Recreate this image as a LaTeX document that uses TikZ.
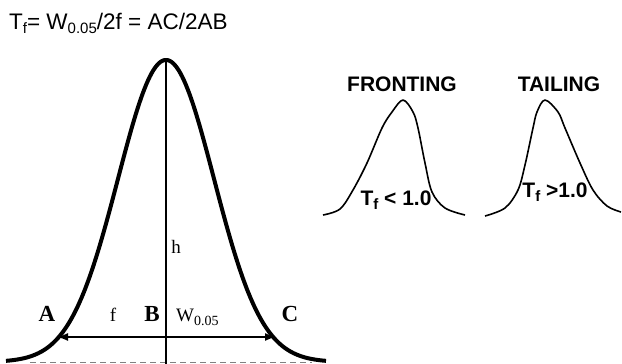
\documentclass[tikz,border=0pt]{standalone}
\usepackage{fontspec}
\setmainfont{Liberation Sans}
\newfontfamily\timesfont{Liberation Serif}
\usetikzlibrary{arrows.meta}

% lowered subscript: size, drop, text
\newcommand{\lowsub}[3]{\raisebox{-#2pt}{\fontsize{#1}{#1}\selectfont #3}}

\tikzset{
	mainpeak/.style={line width=4pt},
	smallpeak/.style={line width=1.6pt, line join=round},
	caption/.style={font=\fontsize{21}{22}\selectfont\bfseries, anchor=base},
	ratio/.style={font=\fontsize{21}{22}\selectfont\bfseries, anchor=base},
	letter/.style={font=\timesfont\fontsize{23}{23}\selectfont\bfseries, anchor=base},
	symbol/.style={font=\timesfont\fontsize{19}{19}\selectfont, anchor=base},
}

\begin{document}
\begin{tikzpicture}[x=1pt,y=-1pt]
	\useasboundingbox (0,0) rectangle (622,364);

	% Formula at the top
	\node[anchor=base west, inner sep=0, font=\fontsize{22.5}{24}\selectfont] (formula) at (9,29)
		{T\lowsub{15}{5}{f}= W\lowsub{15}{5}{0.05}/2f = AC/2AB};

	% Dashed baseline
	\draw[gray, line width=0.8pt, dash pattern=on 6pt off 4pt] (30,362) -- (312,362);

	% Symmetric peak
	\draw[mainpeak] plot[domain=-160:160, samples=90, smooth]
		({166+\x},{362-302*exp(-0.5*(\x/48)^2)});

	% Height line
	\coordinate (apex) at (166,58);
	\coordinate (foot) at (166,366);
	\draw[line width=2pt] (apex) -- (foot);

	% Width at 5% height
	\coordinate (left) at (57,337);
	\coordinate (right) at (276,337);
	\draw[line width=1.8pt, {Latex[length=11pt,width=8pt]}-{Latex[length=11pt,width=8pt]}] (left) -- (right);

	% Labels
	\foreach \name/\x in {A/47, B/152, C/290} {
			\node[letter] (\name) at (\x,321) {\name};
		}
	\node[symbol] (f) at (113,321) {f};
	\node[symbol] (h) at (176,253) {h};
	\node[symbol, anchor=base west, inner sep=0] (w) at (176,321) {W\lowsub{14}{4}{0.05}};

	% Fronting peak
	\node[caption] (fronting) at (402,91) {FRONTING};
	\draw[smallpeak] plot[smooth, tension=0.55] coordinates {(323,215) (340,209) (353,190) (367,163) (382,128) (392,112) (403,100) (413,112) (418,128) (425,163) (432,192) (445,208) (465,215)};
	\node[ratio] (tless) at (396,205) {T\lowsub{15}{4}{f} < 1.0};

	% Tailing peak
	\node[caption] (tailing) at (559,91) {TAILING};
	\draw[smallpeak] plot[smooth, tension=0.55] coordinates {(485,216) (505,208) (518,190) (525,165) (533,128) (537,112) (545,100) (558,112) (565,128) (580,163) (593,190) (607,206) (621,212)};
	\node[ratio] (tmore) at (555,197) {T\lowsub{15}{4}{f} >1.0};
\end{tikzpicture}
\end{document}
